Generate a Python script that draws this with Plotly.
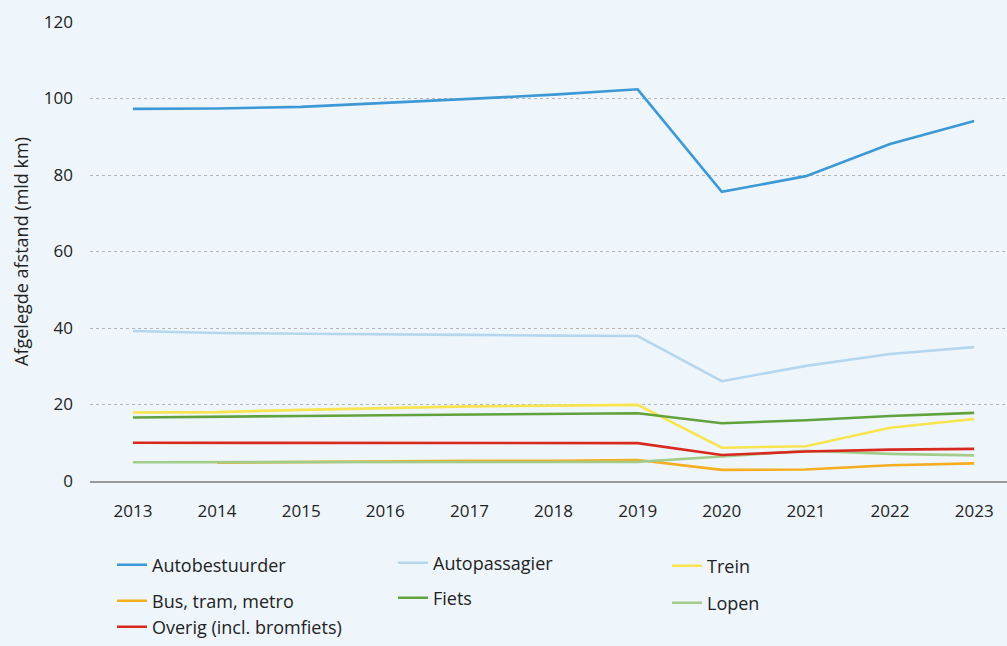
import plotly.graph_objects as go

years = [2013, 2014, 2015, 2016, 2017, 2018, 2019, 2020, 2021, 2022, 2023]
autobestuurder = [97.3, 97.4, 97.8, 98.8, 99.9, 101.0, 102.4, 75.6, 79.7, 88.1, 94.1]
autopassagier = [39.2, 38.7, 38.5, 38.4, 38.2, 38.0, 37.9, 26.1, 30.1, 33.2, 35.0]
trein = [17.9, 18.0, 18.6, 19.1, 19.5, 19.7, 19.9, 8.7, 9.1, 13.9, 16.2]
bus = [None, 4.8, 5.0, 5.1, 5.3, 5.3, 5.5, 2.9, 3.0, 4.1, 4.6]
fiets = [16.6, 16.7, 17.0, 17.2, 17.4, 17.6, 17.7, 15.1, 15.9, 17.0, 17.8]
lopen = [4.9, 4.9, 4.9, 4.9, 5.0, 5.0, 5.0, 6.4, 7.9, 7.1, 6.7]
overig = [10.0, 10.0, 10.0, 10.0, 10.0, 10.0, 9.9, 6.8, 7.7, 8.2, 8.4]

series = [
    ("Autobestuurder", autobestuurder, "#3d98d6"),
    ("Autopassagier", autopassagier, "#b5d7ee"),
    ("Trein", trein, "#f8e44e"),
    ("Bus, tram, metro", bus, "#f6ad1f"),
    ("Fiets", fiets, "#62a23c"),
    ("Lopen", lopen, "#a3cb89"),
    ("Overig (incl. bromfiets)", overig, "#d8291f"),
]

W, H = 1007, 646
ml, mr, mt, mb = 90, 0, 22, 165
pw, ph = W - ml - mr, H - mt - mb
leg_px = [(112, 565), (393, 563), (667, 566), (112, 601), (393, 598), (667, 603), (112, 627)]

FONT = "Open Sans"
fig = go.Figure()
layout_legends = {}
for i, (name, vals, col) in enumerate(series):
    lname = "legend" if i == 0 else f"legend{i+1}"
    fig.add_trace(go.Scatter(x=years, y=vals, name=name, mode="lines",
                             line=dict(color=col, width=2.6),
                             legend=lname, connectgaps=False))
    px, py = leg_px[i]
    layout_legends[lname] = dict(
        x=(px - ml) / pw, y=(H - mb - py) / ph, xanchor="left", yanchor="middle",
        bgcolor="rgba(0,0,0,0)", font=dict(family=FONT, size=18, color="#222"),
        itemwidth=30,
    )

fig.update_layout(
    width=W, height=H,
    margin=dict(l=ml, r=mr, t=mt, b=mb),
    paper_bgcolor="#eef6fc", plot_bgcolor="#eef6fc",
    showlegend=True,
    font=dict(family=FONT, size=17, color="#222"),
    xaxis=dict(range=[2012.49, 2023.39], tickvals=years, ticktext=[str(y) for y in years],
               showgrid=False, showline=True, linecolor="#9a9a9a", linewidth=1.5,
               ticks="", ticklabelstandoff=14, tickfont=dict(size=17, family=FONT), zeroline=False),
    yaxis=dict(range=[0, 120], tickvals=[0, 20, 40, 60, 80, 100, 120],
               showgrid=True, gridcolor="#b5b5b5", griddash="dot", gridwidth=1,
               zeroline=False, showline=False, ticks="", ticklabelstandoff=16,
               tickfont=dict(size=17, family=FONT),
               title=dict(text="Afgelegde afstand (mld km)", font=dict(size=18, family=FONT), standoff=10)),
    **layout_legends,
)
fig.write_html("out.html", config={"displayModeBar": False},
               post_script="document.body.style.margin='0';document.body.style.background='#eef6fc';")
